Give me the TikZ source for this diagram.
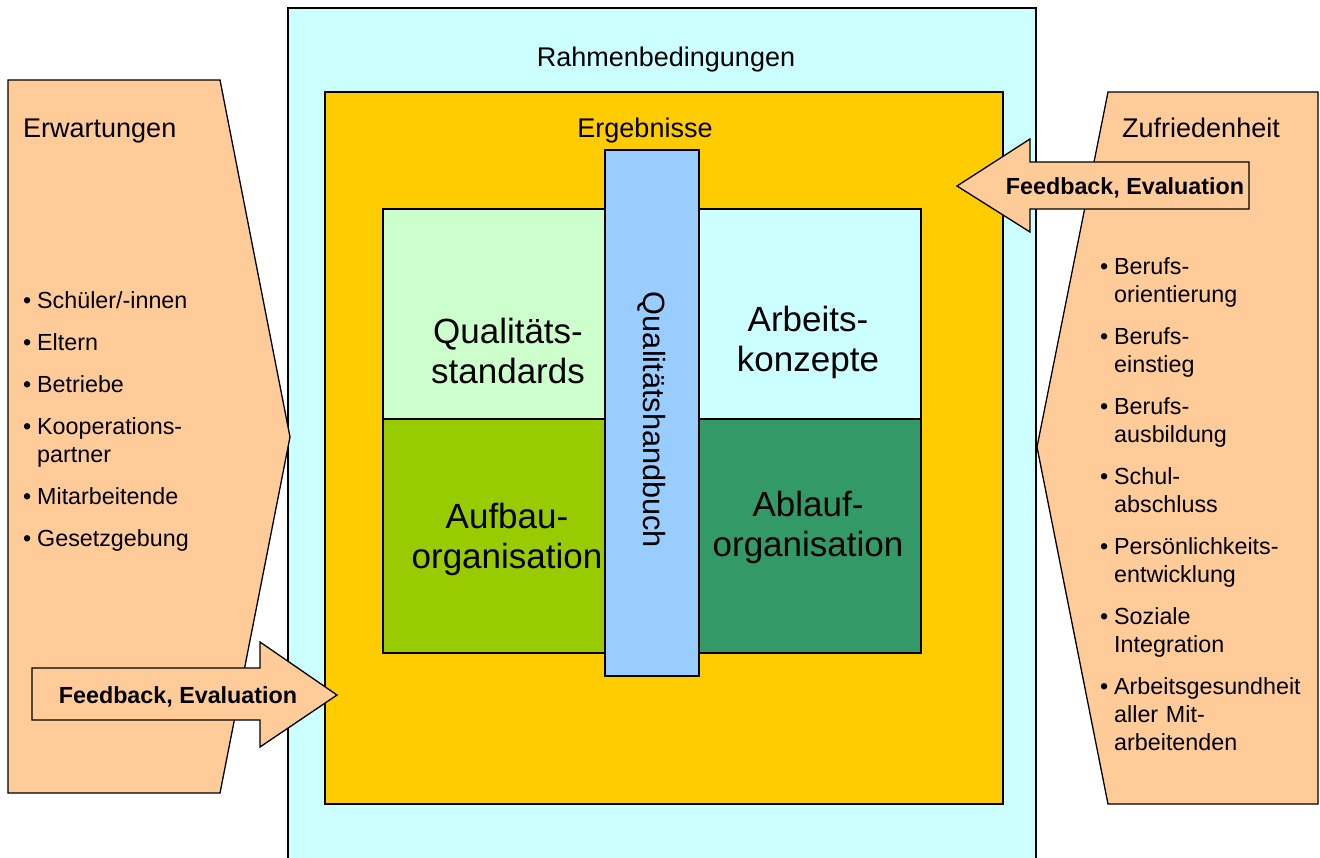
\documentclass[tikz,border=0pt]{standalone}
\usepackage{fontspec}
\setmainfont{Liberation Sans}
\usetikzlibrary{positioning}

\definecolor{rahmenfarbe}{HTML}{CCFFFF}
\definecolor{ergebnisfarbe}{HTML}{FFCC00}
\definecolor{pfirsich}{HTML}{FFCC99}
\definecolor{hellgruen}{HTML}{CCFFCC}
\definecolor{hellcyan}{HTML}{CCFFFF}
\definecolor{gelbgruen}{HTML}{99CC00}
\definecolor{dunkelgruen}{HTML}{339966}
\definecolor{hellblau}{HTML}{99CCFF}

\newcommand{\punkt}[1]{\par\noindent\hangindent=14pt\hangafter=1\makebox[14pt][l]{\textbullet}#1\par}

\tikzset{
    umriss/.style={draw=black, line width=1.3pt, line join=miter},
    titel/.style={font=\fontsize{27}{32}\selectfont, inner sep=0pt},
    liste/.style={font=\fontsize{23.3}{28}\selectfont, inner sep=0pt, align=left, anchor=north west},
    feldtext/.style={font=\fontsize{35}{40}\selectfont, align=center, inner sep=0pt},
    pfeiltext/.style={font=\bfseries\fontsize{23.3}{28}\selectfont, inner sep=0pt}
}

\begin{document}
\begin{tikzpicture}[x=1pt,y=-1pt]
\useasboundingbox (0,0) rectangle (1320,857);
% Rahmenbedingungen
\fill[rahmenfarbe] (288,8) rectangle (1036,870);
\draw[umriss] (288,870) |- (1036,8) -- (1036,870);
% Erwartungen, Zufriedenheit
\draw[umriss, fill=pfirsich] (8,80) -- (220,80) -- (290,437) -- (220,793) -- (8,793) -- cycle;
\draw[umriss, fill=pfirsich] (1108,92) -- (1318,92) -- (1318,804) -- (1108,804) -- (1037,447) -- cycle;
% Ergebnisse
\draw[umriss, fill=ergebnisfarbe] (325,92) rectangle (1003,804);
\draw[umriss, fill=hellgruen] (383,209) rectangle (652,419);
\draw[umriss, fill=hellcyan] (652,209) rectangle (921,419);
\draw[umriss, fill=gelbgruen] (383,419) rectangle (652,653);
\draw[umriss, fill=dunkelgruen] (652,419) rectangle (921,653);
\draw[umriss, fill=hellblau] (605,150) rectangle (699,676);
% Feedback-Pfeile
\draw[umriss, fill=pfirsich] (32,668) -- (260,668) -- (260,642) -- (337,695)
    -- (260,747) -- (260,720) -- (32,720) -- cycle;
\draw[umriss, fill=pfirsich] (1249,162) -- (1030,162) -- (1030,139) -- (957,186)
    -- (1030,232) -- (1030,209) -- (1249,209) -- cycle;

\node[titel, anchor=base] (rahmen) at (666,66) {Rahmenbedingungen};
\node[titel, anchor=base west] (erwartungen) at (23,137) {Erwartungen};
\node[titel, anchor=base west] (zufriedenheit) at (1122,137) {Zufriedenheit};
\node[titel, anchor=base] (ergebnisse) at (645,137) {Ergebnisse};

\node[feldtext] (standards) at (508,351) {Qualitäts-\\standards};
\node[feldtext] (konzepte) at (808,342) {Arbeits-\\konzepte};
\node[feldtext] (aufbau) at (507,539) {Aufbau-\\organisation};
\node[feldtext] (ablauf) at (808,527) {Ablauf-\\organisation};
\node[font=\fontsize{30.7}{36}\selectfont, inner sep=0pt, rotate=-90] (handbuch) at (652,420) {Qualitätshandbuch};

\node[pfeiltext] (feedbackL) at (178,697) {Feedback, Evaluation};
\node[pfeiltext] (feedbackR) at (1125,188) {Feedback, Evaluation};

\node[liste, text width=200pt] (listeL) at (23,266) {\setlength{\parskip}{14pt}
\punkt{Schüler/-innen}
\punkt{Eltern}
\punkt{Betriebe}
\punkt{Kooperations-\newline partner}
\punkt{Mitarbeitende}
\punkt{Gesetzgebung}};
\node[liste, text width=215pt] (listeR) at (1100,232) {\setlength{\parskip}{14pt}
\punkt{Berufs-\newline orientierung}
\punkt{Berufs-\newline einstieg}
\punkt{Berufs-\newline ausbildung}
\punkt{Schul-\newline abschluss}
\punkt{Persönlichkeits-\newline entwicklung}
\punkt{Soziale\newline Integration}
\punkt{Arbeitsgesundheit\newline aller Mit-\newline arbeitenden}};
\end{tikzpicture}
\end{document}
